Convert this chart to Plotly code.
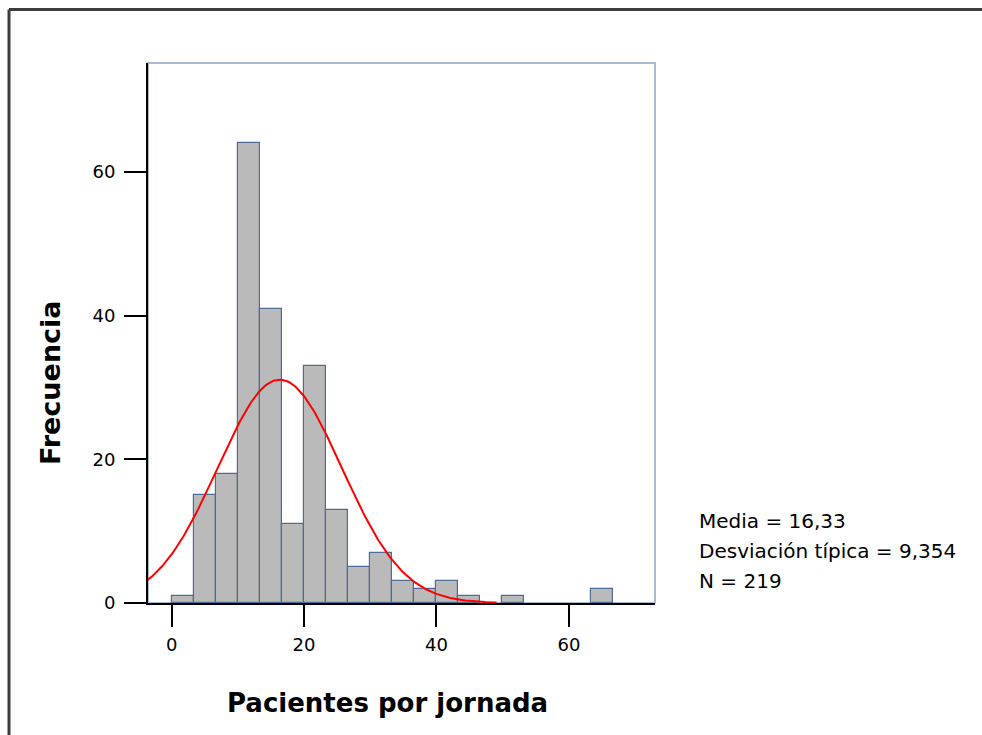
import numpy as np
import plotly.graph_objects as go

# Histogram of patients per session (20 bins of equal width starting at 0)
bin_start = 0.0
bin_width = 3.33
counts = [1, 15, 18, 64, 41, 11, 33, 13, 5, 7, 3, 2, 3, 1, 0, 1, 0, 0, 0, 2]

# Summary statistics shown beside the plot
media = 16.33
desviacion = 9.354
n_total = 219

x_ticks = [0, 20, 40, 60]
y_ticks = [0, 20, 40, 60]
x_range = [-3.57, 73.0]
y_range = [0, 75.2]

W, H = 982, 735
ML, MR, MT, MB = 148, 327, 63, 132
PW, PH = W - ML - MR, H - MT - MB

FONT = "DejaVu Sans"

centers = [bin_start + (i + 0.5) * bin_width for i, c in enumerate(counts) if c > 0]
heights = [c for c in counts if c > 0]

fig = go.Figure()
fig.add_trace(go.Bar(
    x=centers, y=heights, width=bin_width,
    marker=dict(color="#bababa", line=dict(color="#4f6d94", width=1.2)),
    hoverinfo="x+y",
))

# Fitted normal curve, drawn over mean ± 3.5 SD
xs = np.linspace(media - 3.5 * desviacion, media + 3.5 * desviacion, 300)
ys = n_total * bin_width * np.exp(-0.5 * ((xs - media) / desviacion) ** 2) / (desviacion * np.sqrt(2 * np.pi))
fig.add_trace(go.Scatter(x=xs, y=ys, mode="lines", line=dict(color="#ff0000", width=2), cliponaxis=True))


def px_to_paper_x(px):
    return (px - ML) / PW


def px_to_paper_y(py):
    return 1 - (py - MT) / PH


frame = dict(color="#3c3c3c", width=3)
shapes = [
    # light frame around the plotting area
    dict(type="rect", xref="paper", yref="paper", x0=0, x1=1, y0=0, y1=1,
         line=dict(color="#a9b9cf", width=2), layer="below"),
    # page frame: top and left edges
    dict(type="line", xref="paper", yref="paper",
         x0=px_to_paper_x(9), x1=px_to_paper_x(990),
         y0=px_to_paper_y(9.5), y1=px_to_paper_y(9.5), line=frame),
    dict(type="line", xref="paper", yref="paper",
         x0=px_to_paper_x(9), x1=px_to_paper_x(9),
         y0=px_to_paper_y(9.5), y1=px_to_paper_y(745), line=frame),
]

stats_lines = [
    f"Media = {media:.2f}".replace(".", ","),
    f"Desviación típica = {desviacion:.3f}".replace(".", ","),
    f"N = {n_total}",
]

annotations = [
    dict(text="Pacientes por jornada", xref="paper", yref="paper",
         x=px_to_paper_x(387), y=px_to_paper_y(703), showarrow=False,
         font=dict(family=FONT, size=26, color="#000000", weight="bold"),
         xanchor="center", yanchor="middle"),
    dict(text="Frecuencia", xref="paper", yref="paper",
         x=px_to_paper_x(50), y=px_to_paper_y(383), showarrow=False, textangle=-90,
         font=dict(family=FONT, size=27, color="#000000", weight="bold"),
         xanchor="center", yanchor="middle"),
]
for i, line in enumerate(stats_lines):
    annotations.append(dict(
        text=line, xref="paper", yref="paper",
        x=px_to_paper_x(697), y=px_to_paper_y(521 + 30 * i),
        showarrow=False, xanchor="left", yanchor="middle",
        font=dict(family=FONT, size=20, color="#000000"),
    ))

fig.update_layout(
    width=W, height=H,
    margin=dict(l=ML, r=MR, t=MT, b=MB, pad=0),
    paper_bgcolor="#ffffff", plot_bgcolor="#ffffff",
    showlegend=False, bargap=0,
    shapes=shapes, annotations=annotations,
    font=dict(family=FONT, color="#000000"),
)
fig.update_xaxes(
    range=x_range, tickvals=x_ticks, ticks="outside", ticklen=22, tickwidth=2,
    tickcolor="#000000", showline=True, linecolor="#000000", linewidth=2,
    showgrid=False, zeroline=False, ticklabelstandoff=2,
    tickfont=dict(family=FONT, size=18, color="#000000"),
)
fig.update_yaxes(
    range=y_range, tickvals=y_ticks, ticks="outside", ticklen=22, tickwidth=2,
    tickcolor="#000000", showline=True, linecolor="#000000", linewidth=2,
    showgrid=False, zeroline=False, ticklabelstandoff=5,
    tickfont=dict(family=FONT, size=18, color="#000000"),
)

fig.write_html("out.html")
